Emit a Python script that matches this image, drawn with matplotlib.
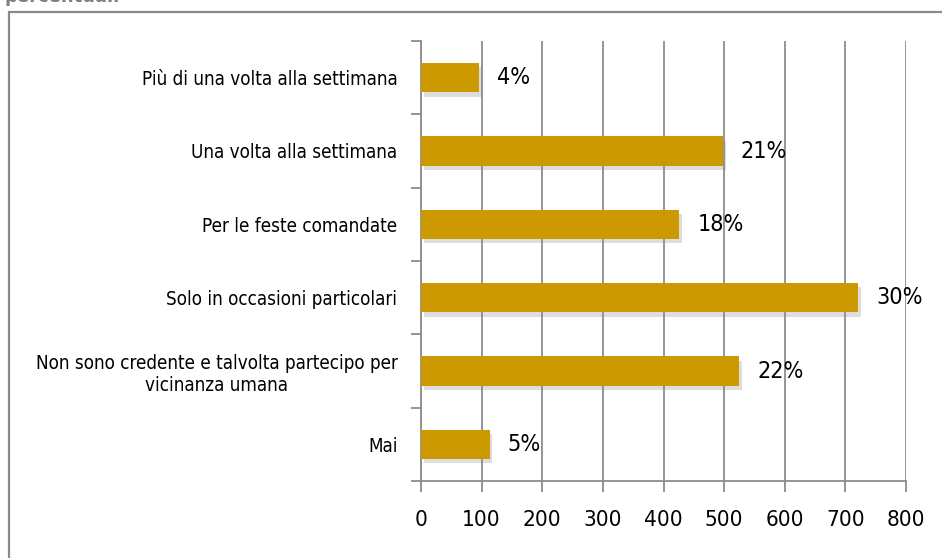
import matplotlib
matplotlib.use("Agg")
import matplotlib.pyplot as plt
import matplotlib.patheffects as pe
from matplotlib.patches import Rectangle
from matplotlib import font_manager
from matplotlib.font_manager import FontProperties
from matplotlib.textpath import TextPath
import numpy as np

categories = [
    "Più di una volta alla settimana",
    "Una volta alla settimana",
    "Per le feste comandate",
    "Solo in occasioni particolari",
    "Non sono credente e talvolta partecipo per\nvicinanza umana",
    "Mai",
]
values = [96, 498, 426, 721, 525, 113]
pct_labels = ["4%", "21%", "18%", "30%", "22%", "5%"]
x_ticks = [0, 100, 200, 300, 400, 500, 600, 700, 800]
title_text = "percentuali"

# pick a condensed / narrow font if one is available
cands = []
for f in font_manager.fontManager.ttflist:
    path = f.fname.lower()
    if f.style != "normal" or f.weight not in (400, "normal", "regular"):
        continue
    if ("condensed" in path or "narrow" in path or "condensed" in f.name.lower()
            or "narrow" in f.name.lower() or f.stretch in ("condensed", "semi-condensed")):
        if "bold" in path or "oblique" in path or "italic" in path:
            continue
        cands.append(f)
pref = ["dejavusanscondensed", "liberationsansnarrow", "roboto", "opensans", "noto"]
def rank(f):
    p = f.fname.lower().replace("-", "").replace("_", "")
    for i, k in enumerate(pref):
        if k in p:
            return i
    return 99
if cands:
    cands.sort(key=rank)
    fp = FontProperties(fname=cands[0].fname)
else:
    fp = FontProperties(family="DejaVu Sans")

def fit(text, target_px):
    w = TextPath((0, 0), text, size=100, prop=fp).get_extents().width
    return 100 * target_px / (w * 100 / 72)

fs_cat = fit("Non sono credente e talvolta partecipo per", 362)
fs_tick = fit("800", 31) * 1.15
fs_pct = fit("30%", 39) * 1.12

BAR = "#CC9900"
GRID = "#8C8C8C"

fig = plt.figure(figsize=(9.42, 5.58), dpi=100)
ax = fig.add_axes([421 / 942, 1 - 481 / 558, (906 - 421) / 942, (481 - 41) / 558])

n = len(categories)
y = np.arange(n)
bars = ax.barh(y, values, height=0.4, color=BAR, zorder=3)
for b in bars:
    b.set_path_effects([pe.SimplePatchShadow(offset=(2, -3), shadow_rgbFace="#909090", alpha=0.3),
                        pe.Normal()])

ax.set_ylim(n - 0.5, -0.5)
ax.set_xlim(0, 800)
ax.set_xticks(x_ticks)
ax.set_xticklabels([str(t) for t in x_ticks])
ax.set_yticks(y)
ax.set_yticklabels(categories, multialignment="center")
for t in ax.get_yticklabels():
    t.set_fontproperties(fp)
    t.set_fontsize(fs_cat)
for t in ax.get_xticklabels():
    t.set_fontproperties(fp)
    t.set_fontsize(fs_tick)
ax.set_yticks(np.arange(n + 1) - 0.5, minor=True)

ax.tick_params(axis="y", which="major", length=0, pad=17)
ax.tick_params(axis="y", which="minor", length=7, width=1.3, color=GRID, direction="out")
ax.tick_params(axis="x", which="major", length=8, width=1.3, color=GRID, pad=13)

ax.grid(axis="x", color=GRID, linewidth=1.3, zorder=0)
for s in ["top", "right"]:
    ax.spines[s].set_visible(False)
for s in ["left", "bottom"]:
    ax.spines[s].set_color(GRID)
    ax.spines[s].set_linewidth(1.3)

for yi, v, lab in zip(y, values, pct_labels):
    ax.annotate(lab, (v, yi), xytext=(13, 0), textcoords="offset points",
                va="center", ha="left", fontproperties=fp, fontsize=fs_pct, color="black")

fig.patches.append(Rectangle((9 / 942, -0.1), 1.2, 1.1 - 12 / 558,
                             transform=fig.transFigure, fill=False,
                             edgecolor="#8A8A8A", linewidth=1.6))
fig.text(5 / 942, 1 - 2 / 558, title_text, fontsize=13, fontweight="bold",
         color="#7F7F7F", va="baseline", ha="left")

fig.savefig("out.png", dpi=100)
